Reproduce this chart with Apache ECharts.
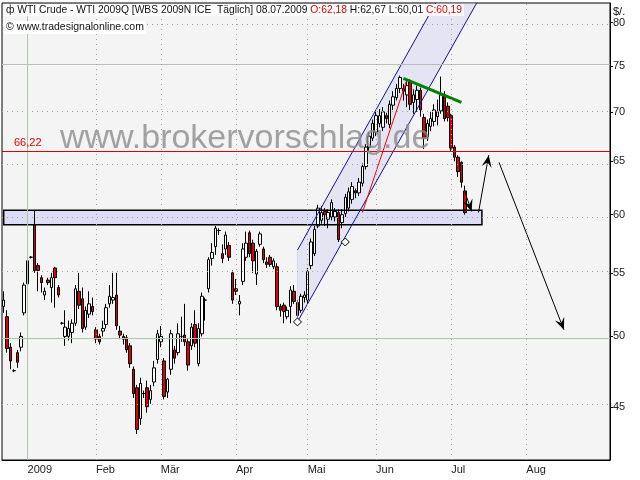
<!DOCTYPE html>
<html>
<head>
<meta charset="utf-8">
<script src="https://cdn.jsdelivr.net/npm/echarts@6/dist/echarts.min.js"></script>
<style>
html, body { margin: 0; padding: 0; background: #fff; }
#container { width: 640px; height: 480px; }
</style>
</head>
<body>
<div id="container"></div>
<script>
// WTI Crude Tageskerzen 22.12.2008 - 08.07.2009
var opens  = [52.3,51.5,49.2,47.5,48.8,49.2,51.8,54.1,56.3,59.1,55.6,54.6,53.2,54.4,53.8,55.4,53.8,51.0,50.0,50.0,
              50.3,51.0,53.5,52.9,50.7,51.7,52.3,50.5,50.0,50.4,50.9,52.5,52.8,53.2,50.4,50.0,49.9,49.3,47.6,46.3,
              44.2,45.9,46.3,45.5,46.7,48.3,49.6,48.2,46.0,47.6,49.0,48.8,50.0,50.1,49.6,49.3,50.9,48.0,50.2,52.8,
              53.7,56.2,57.2,58.6,56.6,57.0,57.3,55.0,53.7,52.5,54.3,56.3,58.4,57.5,54.9,57.4,57.0,55.9,56.3,55.5,
              55.5,52.3,52.4,51.5,52.3,53.5,52.6,52.0,53.0,52.8,55.6,56.6,59.0,59.5,60.3,59.6,59.8,59.8,60.2,59.3,
              60.1,60.6,61.4,62.2,62.0,62.9,64.5,66.4,67.3,67.9,68.8,68.4,69.6,68.7,70.7,71.5,72.5,72.5,71.8,73.2,
              71.0,71.3,72.3,69.4,67.4,68.5,69.0,69.5,70.1,71.8,70.6,69.6,66.4,65.4,64.9,62.18];
var closes = [52.8,49.1,48.2,47.5,48.1,50.0,54.0,56.0,56.3,55.2,55.2,54.2,53.5,54.2,54.6,54.6,53.2,51.0,50.7,50.6,
              51.0,53.7,52.4,50.6,52.0,52.5,51.9,49.8,49.6,50.6,52.2,53.1,53.0,50.8,50.1,49.8,49.0,48.0,45.9,43.5,
              46.6,45.9,45.0,46.1,47.7,50.2,50.0,45.7,46.9,50.2,48.4,50.2,50.0,49.6,47.9,50.7,49.5,50.6,53.1,52.8,
              56.1,56.7,58.8,58.6,56.2,58.2,56.3,52.8,53.5,52.7,57.0,57.5,56.6,56.0,56.8,58.3,56.1,55.7,55.7,56.0,
              52.3,52.0,51.9,52.0,53.6,52.7,51.6,53.1,53.2,55.1,57.6,58.7,60.6,60.2,60.0,60.2,61.1,60.3,57.8,60.0,
              61.6,62.1,62.6,62.0,63.0,64.5,66.4,67.5,68.8,69.6,69.6,70.0,69.3,70.8,71.6,72.5,73.7,72.2,72.8,70.8,
              71.8,72.3,70.2,67.3,68.8,69.3,70.2,70.0,71.8,69.3,69.4,66.3,65.4,64.0,63.0,60.19];
var lows   = [51.8,48.8,47.6,47.4,47.7,48.9,51.6,53.8,56.2,55.0,53.5,53.4,52.8,54.0,52.6,52.2,53.0,50.9,49.3,49.7,
              49.5,50.8,52.1,50.3,50.5,51.4,51.6,49.5,49.4,50.0,50.6,52.2,52.5,50.5,49.8,49.4,48.8,47.7,45.6,43.2,
              43.8,45.6,44.6,45.2,46.4,48.0,49.2,45.5,45.6,47.2,48.0,48.6,49.6,49.3,47.5,49.0,49.2,47.8,50.0,51.2,
              53.4,55.6,56.5,58.2,55.8,56.5,56.0,52.5,53.2,51.6,54.0,56.0,56.3,55.0,54.0,57.2,55.8,55.4,55.5,55.3,
              52.0,51.5,51.0,51.3,51.0,52.5,50.8,51.8,52.6,52.5,55.3,56.4,58.8,59.2,59.0,58.8,59.5,59.4,57.6,58.8,
              59.8,60.3,61.0,61.5,61.7,62.6,64.2,66.0,67.0,67.5,68.4,68.0,68.8,68.3,70.2,71.2,72.0,71.2,70.5,70.2,
              69.8,70.0,69.5,66.2,67.0,68.0,68.5,68.6,69.8,69.0,69.0,66.0,65.0,63.5,62.5,60.01];
var highs  = [53.5,52.0,49.5,47.6,49.0,50.3,54.2,56.2,56.4,60.4,55.8,54.8,53.8,54.6,55.0,55.5,54.0,51.1,52.0,51.2,
              51.3,54.0,55.0,53.8,52.3,53.5,53.0,50.7,50.2,51.2,52.5,54.0,55.0,55.0,50.8,50.2,50.1,49.5,47.8,46.5,
              47.0,46.1,46.8,46.5,48.2,50.5,50.8,48.4,47.0,50.5,49.3,51.0,51.5,52.5,49.8,51.0,52.0,51.0,53.4,53.0,
              56.3,57.5,59.0,58.8,57.4,58.5,57.6,55.2,54.5,53.2,57.5,58.5,58.6,57.8,57.0,58.5,57.2,56.3,56.5,56.2,
              55.8,52.5,52.6,52.3,53.9,54.0,52.8,53.3,53.5,55.4,57.9,59.0,60.9,60.8,60.6,60.5,61.4,60.6,60.5,60.5,
              61.9,62.5,63.0,62.4,63.4,64.8,66.7,67.9,69.2,70.0,70.3,70.5,69.9,71.2,72.2,73.0,73.9,73.0,73.4,73.5,
              72.4,72.8,72.6,69.8,69.2,70.0,70.8,71.3,73.8,72.2,71.0,69.8,66.6,65.6,65.0,62.67];

// Achse
var yTicks = [45, 50, 55, 60, 65, 70, 75, 80];
var monthNames = ['2009', 'Feb', 'Mär', 'Apr', 'Mai', 'Jun', 'Jul', 'Aug'];
var holidays = ['2008-12-25', '2009-01-01', '2009-01-19', '2009-02-16', '2009-04-10', '2009-05-25', '2009-07-03'];
var resistance = 66.22;

// Zeichnungen [Kerzenindex, Kurs]
var zoneBox = [[0.4, 60.4], [140.3, 59.1]];
var channelUpper = [[85.9, 56.9], [127.1, 82.8]];
var channelLower = [[85.9, 51.1], [139.4, 82.8]];
var redTrend = [[104.9, 60.2], [118.1, 73.4]];
var greenTrend = [[116.6, 73.6], [133.6, 71.0]];
var arrows = [
    [[135.3, 62.1], [137.4, 60.3]],
    [[138.5, 60.2], [142.4, 65.6]],
    [[145.3, 64.9], [164.3, 50.5]]
];
var diamonds = [[85.9, 51.1], [99.9, 57.6]];

function pad(n) { return n < 10 ? '0' + n : '' + n; }
var dates = [];
var monthStarts = [];
(function () {
    var d = new Date(2008, 11, 22);
    var lastMonth = -1;
    while (dates.length < 178) {
        var wd = d.getDay();
        var s = d.getFullYear() + '-' + pad(d.getMonth() + 1) + '-' + pad(d.getDate());
        if (wd !== 0 && wd !== 6 && holidays.indexOf(s) < 0) {
            if (d.getMonth() !== lastMonth) {
                if (lastMonth !== -1 && d.getMonth() < 8) monthStarts.push(dates.length);
                lastMonth = d.getMonth();
            }
            dates.push(s);
        }
        d.setDate(d.getDate() + 1);
    }
})();

var L = Math.log;
var candles = opens.map(function (o, i) {
    return [L(o), L(closes[i]), L(lows[i]), L(highs[i])];
});
function pt(api, p) { return api.coord([p[0], L(p[1])]); }

var isMonthStart = function (idx) { return monthStarts.indexOf(idx) >= 0; };

var gridLines = yTicks.map(function (v) {
    var style = { color: '#90b090', type: [1, 4], width: 1 };
    if (v === 50) style = { color: '#a8c8a8', type: 'solid', width: 1 };
    if (v === 75) style = { color: '#b8c0b8', type: 'solid', width: 1 };
    return { yAxis: L(v), lineStyle: style };
});
monthStarts.forEach(function (idx) {
    var jan = dates[idx].slice(5, 7) === '01';
    gridLines.push({ xAxis: idx, lineStyle: jan ? { color: '#a8c8a8', type: 'solid' } : { color: '#a0a0a0', type: [1, 4] } });
});
gridLines.push({
    yAxis: L(resistance),
    lineStyle: { color: '#e00000', type: 'solid', width: 1 },
    label: { show: true, position: 'insideStartTop', formatter: '66,22', color: '#e00000', fontSize: 11, fontFamily: 'Liberation Sans', distance: [12, 2] }
});

var option = {
    animation: false,
    backgroundColor: '#fff',
    grid: { left: 2, right: 30, top: 3, bottom: 20, show: true, backgroundColor: '#f4f4f4', borderColor: '#000', borderWidth: 1 },
    xAxis: {
        type: 'category',
        data: dates,
        boundaryGap: true,
        axisLine: { lineStyle: { color: '#000' } },
        axisTick: { interval: function (i) { return isMonthStart(i); }, length: 4, lineStyle: { color: '#000' } },
        axisLabel: {
            interval: function (i) { return isMonthStart(i); },
            align: 'left', margin: 4, color: '#222', fontSize: 11, fontFamily: 'Liberation Sans',
            formatter: function (v) { return monthNames[parseInt(v.slice(5, 7), 10) - 1] || ''; }
        },
        splitLine: { show: false }
    },
    yAxis: {
        type: 'value',
        position: 'right',
        min: L(41.55),
        max: L(82.4),
        axisLine: { show: true, lineStyle: { color: '#000' } },
        axisTick: { show: true, length: 3, customValues: yTicks.map(L), lineStyle: { color: '#000' } },
        axisLabel: {
            customValues: yTicks.map(L), margin: 3, color: '#222', fontSize: 11, fontFamily: 'Liberation Sans',
            formatter: function (v) { return Math.round(Math.exp(v)); }
        },
        splitLine: { show: false }
    },
    graphic: [
        {
            type: 'text', left: 4, top: 4, z: 100,
            style: {
                text: '{b|ф WTI Crude - WTI 2009Q [WBS 2009N ICE  Täglich] 08.07.2009 }{r|O:62,18 }{b|H:62,67 L:60,01 }{r|C:60,19}',
                backgroundColor: '#fff', padding: [1, 2],
                rich: {
                    b: { fill: '#111', fontSize: 10.3, fontFamily: 'Liberation Sans' },
                    r: { fill: '#e00000', fontSize: 10.3, fontFamily: 'Liberation Sans' }
                }
            }
        },
        {
            type: 'text', left: 4, top: 21, z: 100,
            style: { text: '© www.tradesignalonline.com', fill: '#111', fontSize: 10.5, fontFamily: 'Liberation Sans', backgroundColor: '#fff', padding: [1, 2] }
        },
        {
            type: 'text', left: 613, top: 6, z: 100,
            style: { text: '$/.', fill: '#111', fontSize: 11, fontFamily: 'Liberation Sans' }
        },
        {
            type: 'text', left: 60, top: 122, z: 90, silent: true,
            style: { text: 'www.brokervorschlag.de', fill: 'rgba(140,140,140,0.8)', fontSize: 34, fontFamily: 'Liberation Sans' }
        }
    ],
    series: [
        {
            type: 'custom',
            z: 1,
            silent: true,
            clip: true,
            data: [0],
            renderItem: function (params, api) {
                var a = pt(api, channelUpper[0]), b = pt(api, channelUpper[1]);
                var c = pt(api, channelLower[1]), d = pt(api, channelLower[0]);
                var z0 = pt(api, zoneBox[0]), z1 = pt(api, zoneBox[1]);
                return {
                    type: 'group',
                    children: [
                        { type: 'polygon', shape: { points: [a, b, c, d] }, style: { fill: 'rgba(205,205,240,0.4)' } },
                        { type: 'rect', shape: { x: z0[0], y: z0[1], width: z1[0] - z0[0], height: z1[1] - z0[1] }, style: { fill: '#dcdcf6' } }
                    ]
                };
            },
            markLine: { silent: true, symbol: 'none', label: { show: false }, data: gridLines }
        },
        {
            type: 'candlestick',
            z: 2,
            data: candles,
            barWidth: 3,
            itemStyle: { color: '#fff', color0: '#e00000', borderColor: '#000', borderColor0: '#000', borderWidth: 1 }
        },
        {
            type: 'custom',
            z: 3,
            silent: true,
            clip: true,
            data: [0],
            renderItem: function (params, api) {
                var kids = [];
                function line(p, color, w) {
                    var s = pt(api, p[0]), e = pt(api, p[1]);
                    kids.push({ type: 'line', shape: { x1: s[0], y1: s[1], x2: e[0], y2: e[1] }, style: { stroke: color, lineWidth: w } });
                }
                var z0 = pt(api, zoneBox[0]), z1 = pt(api, zoneBox[1]);
                kids.push({ type: 'rect', shape: { x: z0[0], y: z0[1], width: z1[0] - z0[0], height: z1[1] - z0[1] }, style: { fill: 'none', stroke: '#000', lineWidth: 1.5 } });
                line(channelUpper, '#1010a0', 1);
                line(channelLower, '#1010a0', 1);
                var cu = pt(api, channelUpper[0]), cl = pt(api, channelLower[0]);
                kids.push({ type: 'line', shape: { x1: cu[0], y1: cu[1], x2: cl[0], y2: cl[1] }, style: { stroke: 'rgba(200,200,240,0.6)', lineWidth: 1 } });
                line(redTrend, '#ff0000', 1);
                line(greenTrend, '#008000', 3);
                arrows.forEach(function (ar) {
                    var s = pt(api, ar[0]), e = pt(api, ar[1]);
                    line(ar, '#000', 1);
                    var ang = Math.atan2(e[1] - s[1], e[0] - s[0]);
                    var len = 12, hw = 5;
                    var bx = e[0] - len * Math.cos(ang), by = e[1] - len * Math.sin(ang);
                    var nx = -Math.sin(ang) * hw, ny = Math.cos(ang) * hw;
                    kids.push({ type: 'polygon', shape: { points: [e, [bx + nx, by + ny], [e[0] - 0.6 * len * Math.cos(ang), e[1] - 0.6 * len * Math.sin(ang)], [bx - nx, by - ny]] }, style: { fill: '#000' } });
                });
                diamonds.forEach(function (dm) {
                    var c = pt(api, dm);
                    kids.push({ type: 'polygon', shape: { points: [[c[0], c[1] - 4], [c[0] + 4, c[1]], [c[0], c[1] + 4], [c[0] - 4, c[1]]] }, style: { fill: '#fff', stroke: '#000', lineWidth: 1 } });
                });
                return { type: 'group', children: kids };
            }
        }
    ]
};

var myChart = echarts.init(document.getElementById('container'));
myChart.setOption(option);
</script>
</body>
</html>
